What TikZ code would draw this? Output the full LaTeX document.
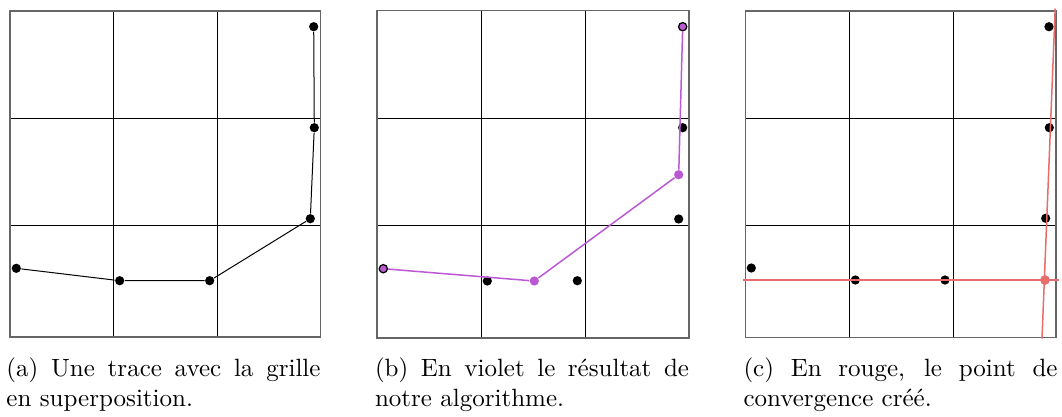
\documentclass[tikz,border=0pt]{standalone}
\definecolor{violetc}{RGB}{187,88,212}
\definecolor{rougec}{RGB}{232,108,108}
\tikzset{
  frame/.style={draw=black!60, line width=0.55pt},
  gridline/.style={draw=black, line width=0.4pt},
  dot/.style={circle, fill=black, inner sep=0pt, minimum size=3.7pt},
  vdot/.style={circle, fill=violetc, inner sep=0pt, minimum size=3.7pt},
  vend/.style={circle, fill=violetc, draw=black, line width=0.5pt, inner sep=0pt, minimum size=3.3pt},
  rdot/.style={circle, fill=rougec, inner sep=0pt, minimum size=3.9pt},
  trace/.style={draw=black, line width=0.4pt},
  vtrace/.style={draw=violetc, line width=0.6pt},
  rline/.style={draw=rougec, line width=0.6pt},
  capt/.style={anchor=north west, inner sep=0pt, text width=125.6pt, align=justify, font=\fontsize{10}{12}\selectfont}
}
\begin{document}
\begin{tikzpicture}[x=0.4pt, y=-0.4pt]
\useasboundingbox (0,0) rectangle (1062,416);
% ---------- panel (a)
\draw[gridline] (113.7,11) -- (113.7,337) (217.3,11) -- (217.3,337)
  (10,118.3) -- (320.7,118.3) (10,225.3) -- (320.7,225.3);
\draw[frame] (10,11) rectangle (320.7,337);
\node[dot] (a1) at (16.3,268.3) {};
\node[dot] (a2) at (119.7,280.7) {};
\node[dot] (a3) at (209.7,280.7) {};
\node[dot] (a4) at (310.3,218.7) {};
\node[dot] (a5) at (314.3,127.7) {};
\node[dot] (a6) at (313.7,26.7) {};
\draw[trace] (a1) -- (a2) -- (a3) -- (a4) -- (a5) -- (a6);
% ---------- panel (b)
\draw[gridline] (481,10.7) -- (481,338) (585.3,10.7) -- (585.3,338)
  (377,118) -- (689,118) (377,225.7) -- (689,225.7);
\draw[frame] (377,10.7) rectangle (689,338);
\node[dot] (b2) at (487.3,281) {};
\node[dot] (b3) at (577.3,280.7) {};
\node[dot] (b4) at (678.7,219) {};
\node[dot] (b5) at (682.7,127.7) {};
\node[vend] (p1) at (383.3,268.7) {};
\node[vdot] (p2) at (534.3,281) {};
\node[vdot] (p3) at (678.7,174.7) {};
\node[vend] (p4) at (682.7,26.7) {};
\draw[vtrace] (p1) -- (p2) -- (p3) -- (p4);
% ---------- panel (c)
\draw[gridline] (849.3,11) -- (849.3,337.3) (953,11) -- (953,337.3)
  (745.3,118) -- (1056,118) (745.3,225.3) -- (1056,225.3);
\draw[frame] (745.3,11) rectangle (1056,337.3);
\node[dot] (c1) at (751.3,268) {};
\node[dot] (c2) at (855.3,280) {};
\node[dot] (c3) at (945,280) {};
\node[dot] (c4) at (1045.7,218.3) {};
\node[dot] (c5) at (1049.3,127.7) {};
\node[dot] (c6) at (1049,26.7) {};
\coordinate (hl) at (743.3,280);
\coordinate (hr) at (1059,280);
\coordinate (vt) at (1055.2,8.5);
\coordinate (vb) at (1042,338.5);
\draw[rline] (hl) -- (hr);
\draw[rline] (vt) -- (vb);
\node[rdot] (r) at (1045,280) {};
% ---------- captions
\node[capt] (capa) at (6,357) {(a) Une trace avec la grille\linebreak en superposition.};
\node[capt] (capb) at (374.5,357) {(b) En violet le résultat de\linebreak notre algorithme.};
\node[capt] (capc) at (743,357) {(c) En rouge, le point de\linebreak convergence créé.};
\end{tikzpicture}
\end{document}
